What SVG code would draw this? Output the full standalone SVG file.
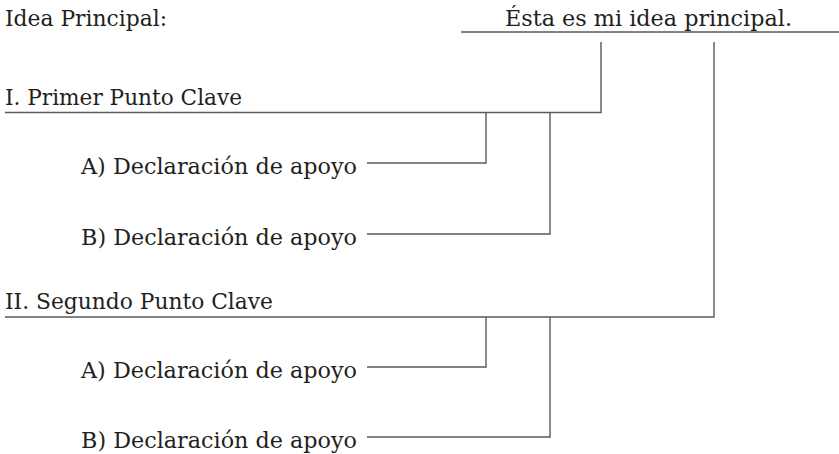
<svg xmlns="http://www.w3.org/2000/svg" width="839" height="454" viewBox="0 0 839 454">
<style>
.t{font-family:"DejaVu Serif","Liberation Serif",serif;font-size:23px;fill:#231f20}
.c{fill:none;stroke:#5a5a5a;stroke-width:1.4}
</style>
<rect width="839" height="454" fill="#fff"/>
<g id="connectors">
<path class="c" d="M461,32 H839"/>
<path class="c" d="M5,112.5 H601 V42"/>
<path class="c" d="M5,317 H714 V42"/>
<path class="c" d="M367,163 H486 V112.5"/>
<path class="c" d="M367,234 H550 V112.5"/>
<path class="c" d="M367,367 H486 V317"/>
<path class="c" d="M367,437 H550 V317"/>
</g>
<g id="label-idea"><text class="t" x="5" y="26" textLength="162" lengthAdjust="spacingAndGlyphs">Idea Principal:</text></g>
<g id="main-idea"><text class="t" x="505" y="26" textLength="287" lengthAdjust="spacingAndGlyphs">Ésta es mi idea principal.</text></g>
<g id="point1"><text class="t" x="5" y="105" textLength="237" lengthAdjust="spacingAndGlyphs">I. Primer Punto Clave</text></g>
<g id="point1-a"><text class="t" x="81" y="174" textLength="276" lengthAdjust="spacingAndGlyphs">A) Declaración de apoyo</text></g>
<g id="point1-b"><text class="t" x="81" y="245" textLength="276" lengthAdjust="spacingAndGlyphs">B) Declaración de apoyo</text></g>
<g id="point2"><text class="t" x="5" y="309" textLength="268" lengthAdjust="spacingAndGlyphs">II. Segundo Punto Clave</text></g>
<g id="point2-a"><text class="t" x="81" y="378" textLength="276" lengthAdjust="spacingAndGlyphs">A) Declaración de apoyo</text></g>
<g id="point2-b"><text class="t" x="81" y="448" textLength="276" lengthAdjust="spacingAndGlyphs">B) Declaración de apoyo</text></g>
</svg>
